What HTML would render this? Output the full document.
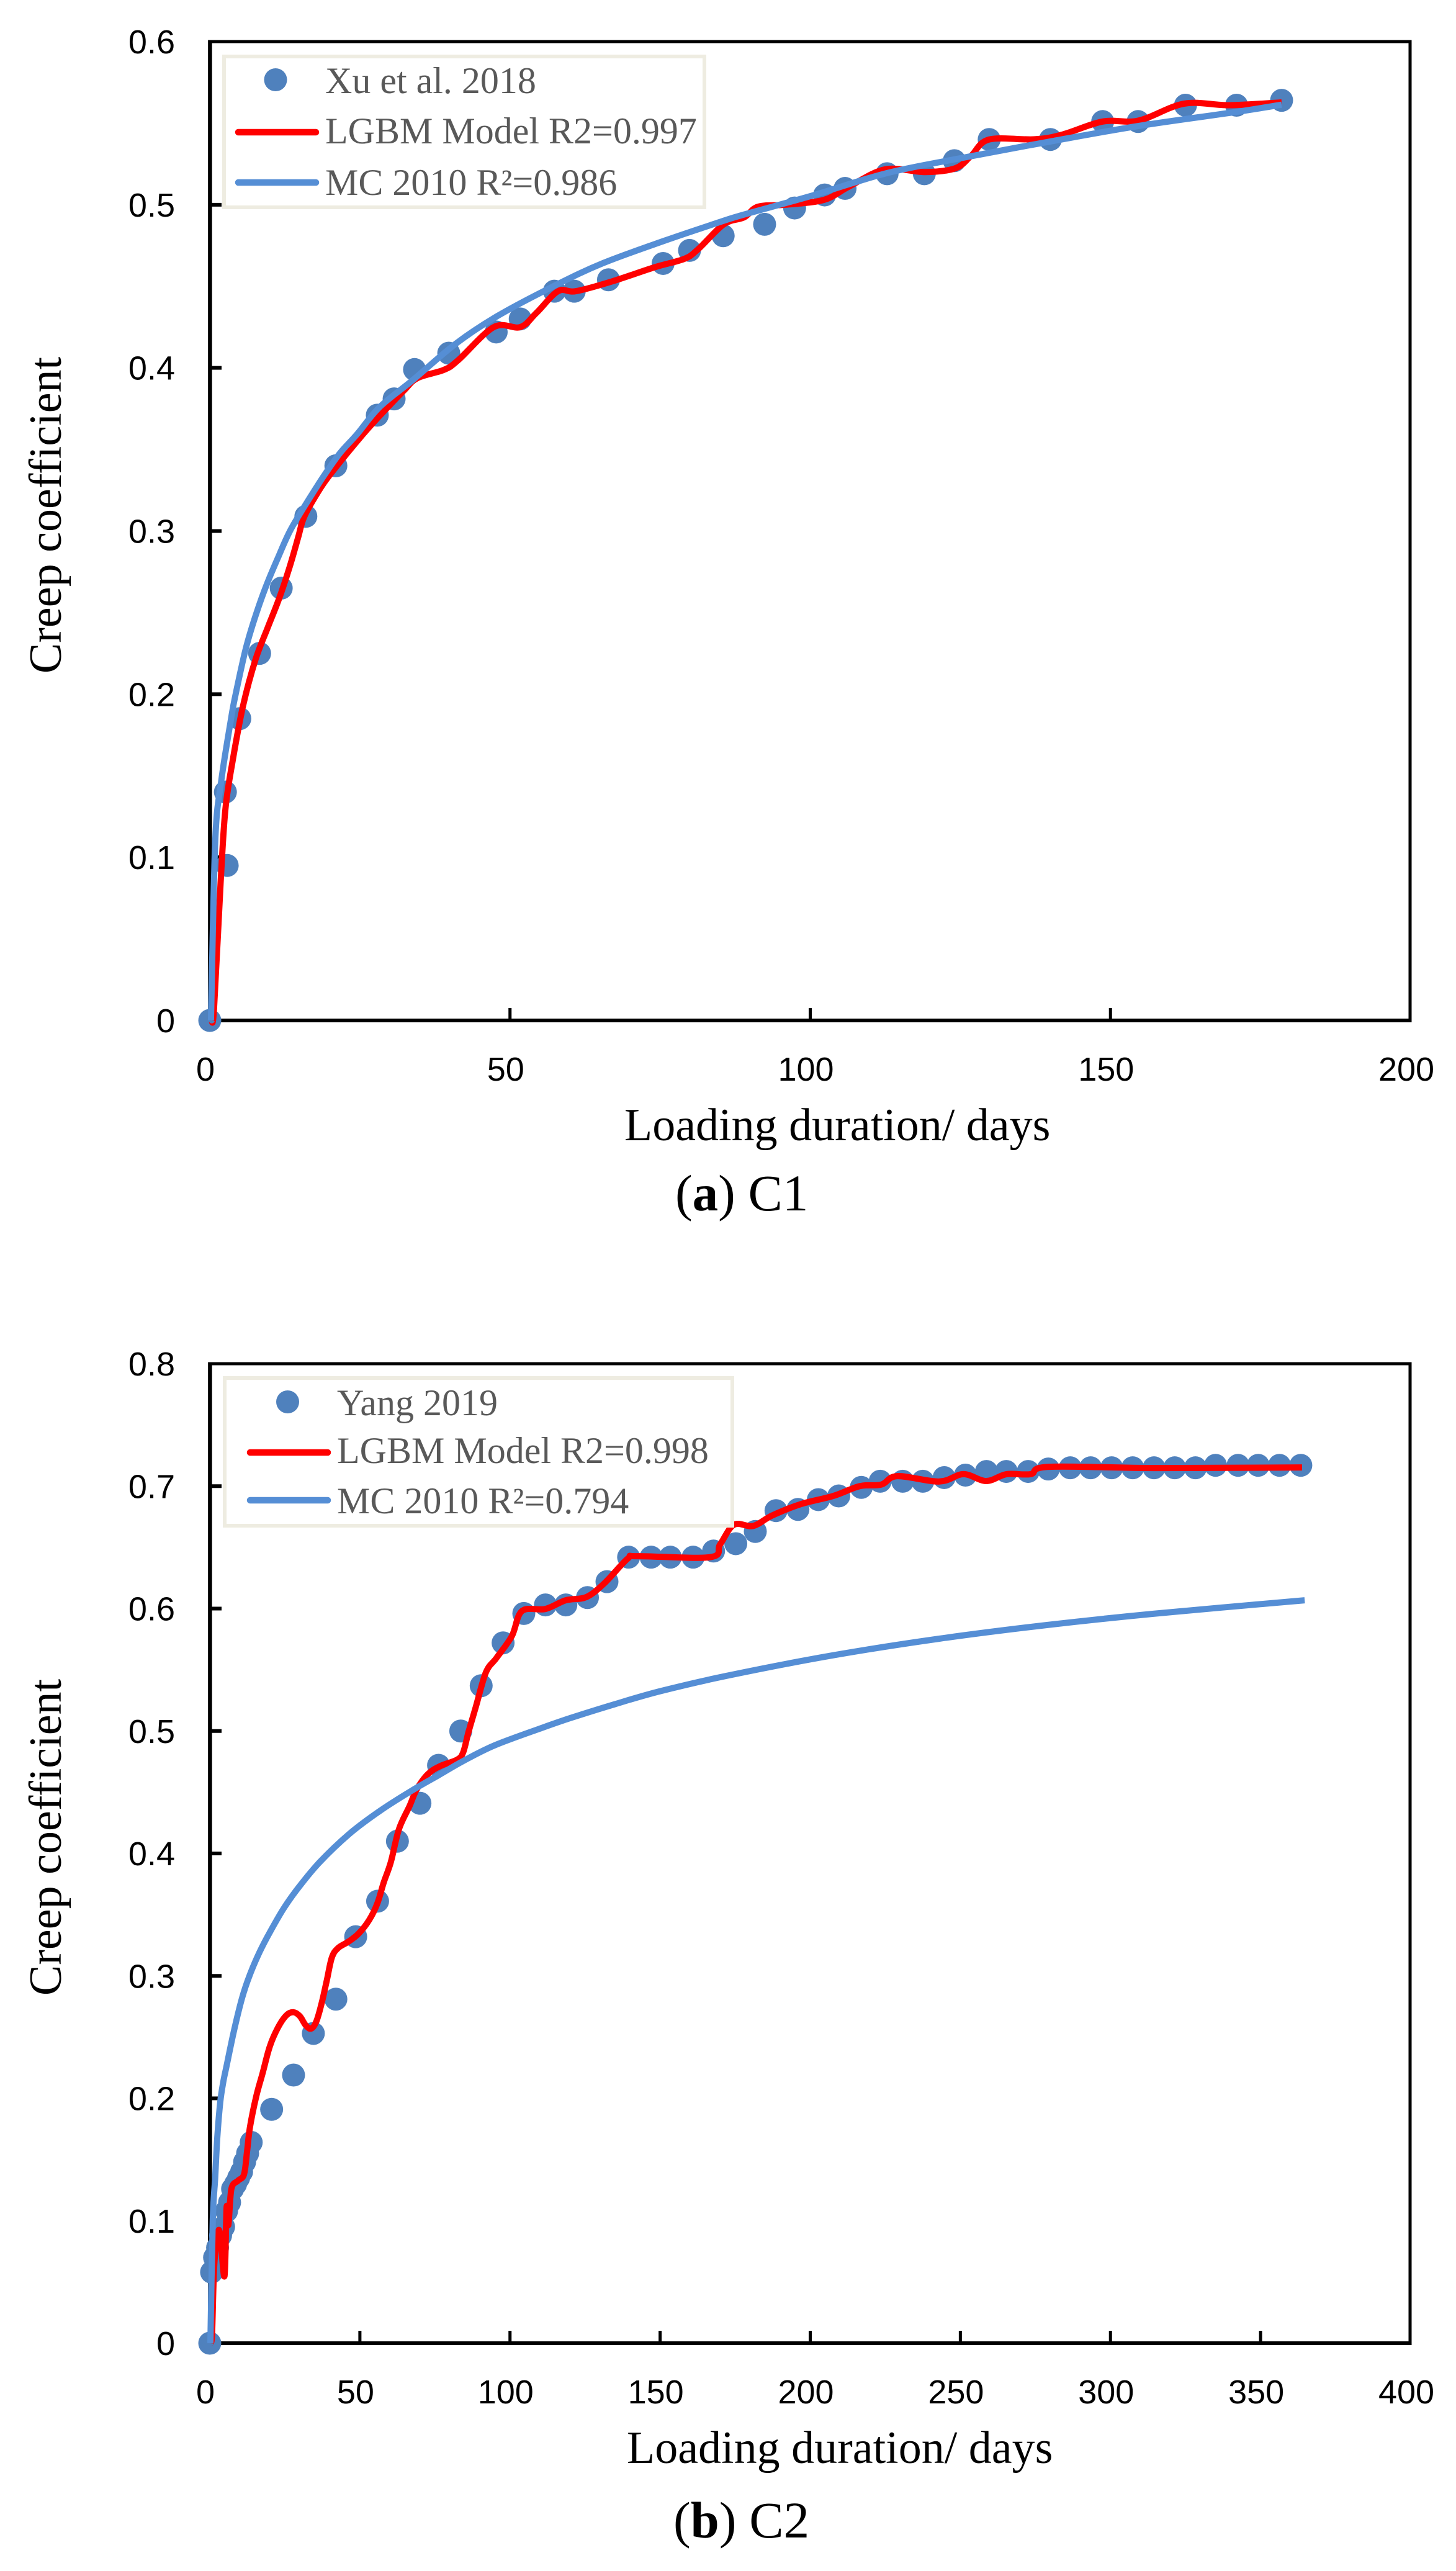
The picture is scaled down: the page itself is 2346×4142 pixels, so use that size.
<!DOCTYPE html>
<html lang="en">
<head>
<meta charset="utf-8">
<title>Creep coefficient charts</title>
<style>
  html, body { margin: 0; padding: 0; background: #ffffff; }
  svg { display: block; }
  .serif { font-family: "Liberation Serif", serif; }
  .sans { font-family: "Liberation Sans", sans-serif; }
  .legend-text { font-family: "Liberation Serif", serif; font-size: 60px; fill: #595959; }
  .axis-title { font-family: "Liberation Serif", serif; font-size: 74px; fill: #000000; }
  .caption { font-family: "Liberation Serif", serif; font-size: 83px; fill: #000000; }
</style>
</head>
<body>
<svg id="figure" xmlns="http://www.w3.org/2000/svg" width="2346" height="4142" viewBox="0 0 2346 4142">
  <rect x="0" y="0" width="2346" height="4142" fill="#ffffff"/>

  <g id="chart-c1"></g>
  <g id="chart-c2"></g>

  <text class="axis-title" transform="translate(98 830) rotate(-90)" text-anchor="middle">Creep coefficient</text>
  <text class="axis-title" x="1006" y="1837">Loading duration/ days</text>
  <text class="caption" x="1088" y="1950">(<tspan font-weight="bold">a</tspan>) C1</text>

  <g>
    <rect x="361" y="91" width="774" height="243" fill="#ffffff" stroke="#EEECE1" stroke-width="6"/>
    <circle cx="444" cy="128.5" r="18.5" fill="#4F81BD"/>
    <text class="legend-text" x="524" y="150">Xu et al. 2018</text>
    <line x1="384" y1="213" x2="509" y2="213" stroke="#FF0000" stroke-width="10.5" stroke-linecap="round"/>
    <text class="legend-text" x="524" y="231">LGBM Model R2=0.997</text>
    <line x1="384" y1="294" x2="509" y2="294" stroke="#558ED5" stroke-width="10.5" stroke-linecap="round"/>
    <text class="legend-text" x="524" y="314">MC 2010 R²=0.986</text>
  </g>

  <text class="axis-title" transform="translate(98 2960) rotate(-90)" text-anchor="middle">Creep coefficient</text>
  <text class="axis-title" x="1010" y="3968">Loading duration/ days</text>
  <text class="caption" x="1085" y="4088">(<tspan font-weight="bold">b</tspan>) C2</text>

  <g>
    <rect x="362" y="2220" width="818" height="238" fill="#ffffff" stroke="#EEECE1" stroke-width="6"/>
    <circle cx="463.5" cy="2258.5" r="18.5" fill="#4F81BD"/>
    <text class="legend-text" x="543" y="2280">Yang 2019</text>
    <line x1="403" y1="2340" x2="528" y2="2340" stroke="#FF0000" stroke-width="10.5" stroke-linecap="round"/>
    <text class="legend-text" x="543" y="2357">LGBM Model R2=0.998</text>
    <line x1="403" y1="2417" x2="528" y2="2417" stroke="#558ED5" stroke-width="10.5" stroke-linecap="round"/>
    <text class="legend-text" x="543" y="2438">MC 2010 R²=0.794</text>
  </g>
</svg>

<script>
// ---- Chart C1 data ----
const c1XTicks = [0, 50, 100, 150, 200];
const c1XTickLabels = ['0', '50', '100', '150', '200'];
const c1YTicks = [0, 0.1, 0.2, 0.3, 0.4, 0.5, 0.6];
const c1YTickLabels = ['0', '0.1', '0.2', '0.3', '0.4', '0.5', '0.6'];
const c1MeasuredDays = [0, 2.9, 2.6, 5, 8.3, 11.9, 16, 21, 27.9, 30.7, 34.1, 39.8, 47.7, 51.7, 57.4, 60.7, 66.4, 75.5, 79.9, 85.5, 92.4, 97.4, 102.4, 105.8, 112.8, 119, 124, 129.8, 140, 148.7, 154.6, 162.5, 171, 178.5];
const c1MeasuredValues = [0, 0.095, 0.14, 0.185, 0.225, 0.265, 0.309, 0.34, 0.371, 0.381, 0.399, 0.409, 0.422, 0.43, 0.447, 0.447, 0.454, 0.464, 0.472, 0.481, 0.488, 0.498, 0.506, 0.51, 0.519, 0.519, 0.527, 0.54, 0.54, 0.551, 0.551, 0.561, 0.561, 0.564];
const c1LgbmDays = [0.3, 0.7, 1.8, 2.6, 3.9, 5.55, 7.6, 9.7, 11.6, 13.3, 14.7, 15.7, 18, 20.4, 25.5, 28.3, 32.3, 34.6, 39, 41.4, 47.3, 51.7, 54.4, 58, 61, 67, 74, 79, 81.3, 85.6, 89, 91.3, 95.9, 102.3, 106.4, 112.5, 119.2, 124.2, 126.8, 129.8, 137.4, 142, 148.7, 154.7, 162.3, 169.8, 178.5];
const c1LgbmValues = [0, 0.007, 0.084, 0.1295, 0.161, 0.193, 0.221, 0.2412, 0.2591, 0.278, 0.2958, 0.3085, 0.3237, 0.3363, 0.3592, 0.3706, 0.386, 0.3938, 0.3988, 0.4048, 0.425, 0.425, 0.4337, 0.447, 0.447, 0.453, 0.4616, 0.4668, 0.4726, 0.488, 0.4923, 0.4988, 0.5, 0.503, 0.511, 0.5217, 0.52, 0.5224, 0.53, 0.54, 0.5401, 0.543, 0.551, 0.5516, 0.562, 0.561, 0.5627];
const c1McDays = [0.2, 0.9, 1.9, 3.5, 4.2, 5.9, 7.4, 9.3, 11.4, 13.5, 16.6, 19, 21.7, 24.5, 28.3, 33.9, 41, 48, 57.5, 65.5, 75.7, 85.2, 89, 100.4, 112.8, 125.3, 140, 154.7, 170.6, 178.5];
const c1McValues = [0, 0.109, 0.1465, 0.184, 0.198, 0.2265, 0.2455, 0.2655, 0.284, 0.301, 0.32, 0.3338, 0.3478, 0.3592, 0.376, 0.3928, 0.4149, 0.432, 0.4505, 0.4642, 0.4779, 0.4897, 0.494, 0.5057, 0.5194, 0.5287, 0.5388, 0.5483, 0.5567, 0.5613];

// ---- Chart C2 data ----
const c2XTicks = [0, 50, 100, 150, 200, 250, 300, 350, 400];
const c2XTickLabels = ['0', '50', '100', '150', '200', '250', '300', '350', '400'];
const c2YTicks = [0, 0.1, 0.2, 0.3, 0.4, 0.5, 0.6, 0.7, 0.8];
const c2YTickLabels = ['0', '0.1', '0.2', '0.3', '0.4', '0.5', '0.6', '0.7', '0.8'];
const c2MeasuredDays = [0, 0.6, 1.6, 2.6, 3.6, 4.6, 5.6, 6.6, 7.6, 8.6, 9.6, 10.6, 11.6, 12.6, 13.8, 20.6, 27.9, 34.5, 42, 48.6, 55.9, 62.5, 70, 76.2, 83.6, 90.4, 97.7, 104.6, 111.8, 118.6, 125.8, 132.3, 139.5, 147, 153.4, 161, 167.8, 175.2, 181.7, 188.6, 195.9, 202.7, 209.5, 217, 223.3, 230.8, 237.5, 244.6, 251.7, 258.7, 265.3, 272.6, 279.3, 286.6, 293.4, 300.4, 307.4, 314.5, 321.4, 328.3, 335, 342.5, 349.2, 356.3, 363.4];
const c2MeasuredValues = [0, 0.058, 0.07, 0.078, 0.088, 0.095, 0.108, 0.115, 0.126, 0.13, 0.135, 0.14, 0.148, 0.155, 0.164, 0.191, 0.219, 0.253, 0.281, 0.332, 0.361, 0.41, 0.441, 0.472, 0.5, 0.537, 0.572, 0.596, 0.603, 0.603, 0.609, 0.622, 0.642, 0.642, 0.642, 0.642, 0.647, 0.653, 0.663, 0.68, 0.681, 0.689, 0.692, 0.699, 0.704, 0.704, 0.704, 0.707, 0.709, 0.712, 0.712, 0.712, 0.714, 0.715, 0.715, 0.715, 0.715, 0.715, 0.715, 0.715, 0.717, 0.717, 0.717, 0.717, 0.717];
const c2LgbmDays = [0.3, 0.76, 1.45, 2.5, 3.4, 4.9, 5.6, 6.2, 7.2, 9.4, 11.4, 12.4, 13.4, 15.5, 17.6, 20, 22.7, 25.5, 27.9, 30, 32, 33.8, 35.5, 37.3, 39, 40.7, 42.8, 46.2, 49.6, 53.1, 55.8, 57.9, 60.3, 63, 66.5, 68.9, 72.7, 76.9, 82.4, 84.4, 86.2, 88.6, 92, 95.5, 100.6, 104, 111.8, 118.6, 125.4, 131.4, 139.2, 142.6, 166.6, 170, 174.6, 181, 187.3, 197, 207.7, 216.5, 223.7, 229, 243, 251, 258.6, 265.4, 273.4, 279.5, 314.5, 363.8];
const c2LgbmValues = [0, 0.008, 0.062, 0.0867, 0.09, 0.0547, 0.111, 0.0965, 0.126, 0.1327, 0.1378, 0.1563, 0.1766, 0.2019, 0.2205, 0.2425, 0.2577, 0.2678, 0.2703, 0.2671, 0.2595, 0.257, 0.2628, 0.278, 0.2966, 0.3153, 0.3229, 0.328, 0.3346, 0.3457, 0.3591, 0.376, 0.3929, 0.4198, 0.4385, 0.4522, 0.4649, 0.4715, 0.4766, 0.4826, 0.4994, 0.5196, 0.548, 0.5597, 0.5775, 0.598, 0.5997, 0.6068, 0.6094, 0.6206, 0.6408, 0.6428, 0.642, 0.6525, 0.6685, 0.6675, 0.676, 0.6854, 0.692, 0.7, 0.7013, 0.7082, 0.7038, 0.7098, 0.7042, 0.7098, 0.7098, 0.7158, 0.7148, 0.7153];
const c2McDays = [0.2, 1, 1.8, 2.5, 3.5, 4.5, 5.6, 8, 10.7, 13.2, 16.6, 20, 24.8, 29.7, 36.6, 46.5, 56.8, 67.2, 76.2, 84.4, 94.8, 110, 120, 135, 150, 172, 207.7, 243, 278.6, 314, 364.7];
const c2McValues = [0, 0.1, 0.135, 0.168, 0.197, 0.2135, 0.2265, 0.2545, 0.2815, 0.3, 0.3195, 0.3356, 0.3558, 0.3726, 0.3929, 0.416, 0.435, 0.4512, 0.4639, 0.4755, 0.4882, 0.502, 0.5105, 0.522, 0.5325, 0.545, 0.5619, 0.5754, 0.5865, 0.5957, 0.6068];

const SVG_NS = 'http://www.w3.org/2000/svg';

function makeScale(domainMax, rangeStart, rangeEnd) {
  return function (v) {
    return rangeStart + (v / domainMax) * (rangeEnd - rangeStart);
  };
}

function smoothPath(xs, ys, sx, sy) {
  const pts = xs.map(function (x, i) { return [sx(x), sy(ys[i])]; });
  let d = 'M' + pts[0][0].toFixed(1) + ' ' + pts[0][1].toFixed(1);
  for (let i = 0; i < pts.length - 1; i++) {
    const p0 = pts[Math.max(0, i - 1)];
    const p1 = pts[i];
    const p2 = pts[i + 1];
    const p3 = pts[Math.min(pts.length - 1, i + 2)];
    const c1x = p1[0] + (p2[0] - p0[0]) / 6;
    const c1y = p1[1] + (p2[1] - p0[1]) / 6;
    const c2x = p2[0] - (p3[0] - p1[0]) / 6;
    const c2y = p2[1] - (p3[1] - p1[1]) / 6;
    d += 'C' + c1x.toFixed(1) + ' ' + c1y.toFixed(1) + ' ' + c2x.toFixed(1) + ' ' + c2y.toFixed(1) + ' ' + p2[0].toFixed(1) + ' ' + p2[1].toFixed(1);
  }
  return d;
}

function drawChart(id, cfg) {
  const root = document.getElementById(id);
  const sx = makeScale(cfg.xMax, cfg.left, cfg.right);
  const sy = makeScale(cfg.yMax, cfg.bottom, cfg.top);

  const frame = document.createElementNS(SVG_NS, 'path');
  
  
  frame.setAttribute('d', 'M' + cfg.left + ' ' + cfg.top + 'H' + cfg.frameRight + 'V' + cfg.bottom);
  frame.setAttribute('fill', 'none');
  frame.setAttribute('stroke', '#000000');
  frame.setAttribute('stroke-width', '5');
  frame.setAttribute('stroke-linecap', 'square');
  root.appendChild(frame);

  const yAxis = document.createElementNS(SVG_NS, 'line');
  
  
  yAxis.setAttribute('x1', cfg.left + 0.4);
  yAxis.setAttribute('x2', cfg.left + 0.4);
  yAxis.setAttribute('y1', cfg.top - 2.5);
  yAxis.setAttribute('y2', cfg.bottom + 3);
  yAxis.setAttribute('stroke', '#000000');
  yAxis.setAttribute('stroke-width', '6.5');
  root.appendChild(yAxis);

  const xAxis = document.createElementNS(SVG_NS, 'line');
  
  
  xAxis.setAttribute('x1', cfg.left - 3);
  xAxis.setAttribute('x2', cfg.frameRight + 2.5);
  xAxis.setAttribute('y1', cfg.bottom);
  xAxis.setAttribute('y2', cfg.bottom);
  xAxis.setAttribute('stroke', '#000000');
  xAxis.setAttribute('stroke-width', '6');
  root.appendChild(xAxis);

  cfg.yTicks.forEach(function (v, i) {
    if (v > 0 && v < cfg.yMax) {
      const tick = document.createElementNS(SVG_NS, 'line');
      
      
      tick.setAttribute('x1', cfg.left);
      tick.setAttribute('x2', cfg.left + 19);
      tick.setAttribute('y1', sy(v));
      tick.setAttribute('y2', sy(v));
      tick.setAttribute('stroke', '#000000');
      tick.setAttribute('stroke-width', '6');
      root.appendChild(tick);
    }
    const label = document.createElementNS(SVG_NS, 'text');
    
    
    label.setAttribute('x', 282);
    label.setAttribute('y', sy(v) + 19);
    label.setAttribute('text-anchor', 'end');
    label.setAttribute('class', 'sans');
    label.setAttribute('font-size', '54');
    label.setAttribute('fill', '#000000');
    label.textContent = cfg.yLabels[i];
    root.appendChild(label);
  });

  cfg.xTicks.forEach(function (v, i) {
    if (v > 0 && v < cfg.xMax) {
      const tick = document.createElementNS(SVG_NS, 'line');
      
      
      tick.setAttribute('x1', sx(v));
      tick.setAttribute('x2', sx(v));
      tick.setAttribute('y1', cfg.bottom);
      tick.setAttribute('y2', cfg.bottom - 20);
      tick.setAttribute('stroke', '#000000');
      tick.setAttribute('stroke-width', '5');
      root.appendChild(tick);
    }
    const label = document.createElementNS(SVG_NS, 'text');
    
    
    label.setAttribute('x', sx(v) - 7);
    label.setAttribute('y', cfg.bottom + 97);
    label.setAttribute('text-anchor', 'middle');
    label.setAttribute('class', 'sans');
    label.setAttribute('font-size', '54');
    label.setAttribute('fill', '#000000');
    label.textContent = cfg.xLabels[i];
    root.appendChild(label);
  });

  cfg.days.forEach(function (d, i) {
    const dot = document.createElementNS(SVG_NS, 'circle');
    
    
    dot.setAttribute('cx', sx(d));
    dot.setAttribute('cy', sy(cfg.values[i]));
    dot.setAttribute('r', '18.5');
    dot.setAttribute('fill', '#4F81BD');
    root.appendChild(dot);
  });

  const lgbm = document.createElementNS(SVG_NS, 'path');
  
  
  lgbm.setAttribute('d', smoothPath(cfg.lgbmDays, cfg.lgbmValues, sx, sy));
  lgbm.setAttribute('fill', 'none');
  lgbm.setAttribute('stroke', '#FF0000');
  lgbm.setAttribute('stroke-width', '10');
  lgbm.setAttribute('stroke-linejoin', 'round');
  root.appendChild(lgbm);

  const mc = document.createElementNS(SVG_NS, 'path');
  
  
  mc.setAttribute('d', smoothPath(cfg.mcDays, cfg.mcValues, sx, sy));
  mc.setAttribute('fill', 'none');
  mc.setAttribute('stroke', '#558ED5');
  mc.setAttribute('stroke-width', '10');
  mc.setAttribute('stroke-linejoin', 'round');
  root.appendChild(mc);
}

drawChart('chart-c1', {
  left: 338, right: 2273, frameRight: 2272, top: 67, bottom: 1644, xMax: 200, yMax: 0.6,
  xTicks: c1XTicks, xLabels: c1XTickLabels, yTicks: c1YTicks, yLabels: c1YTickLabels,
  days: c1MeasuredDays, values: c1MeasuredValues,
  lgbmDays: c1LgbmDays, lgbmValues: c1LgbmValues,
  mcDays: c1McDays, mcValues: c1McValues
});

drawChart('chart-c2', {
  left: 338, right: 2273, frameRight: 2272, top: 2197, bottom: 3775, xMax: 400, yMax: 0.8,
  xTicks: c2XTicks, xLabels: c2XTickLabels, yTicks: c2YTicks, yLabels: c2YTickLabels,
  days: c2MeasuredDays, values: c2MeasuredValues,
  lgbmDays: c2LgbmDays, lgbmValues: c2LgbmValues,
  mcDays: c2McDays, mcValues: c2McValues
});
</script>
</body>
</html>
